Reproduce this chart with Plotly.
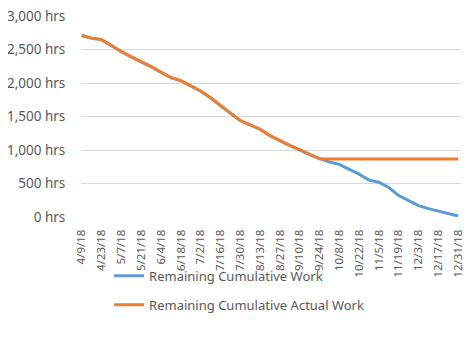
import plotly.graph_objects as go
import pandas as pd

# Weekly dates (Mondays) from 4/9/18 to 12/31/18
dates = pd.date_range("2018-04-09", "2018-12-31", freq="7D")

remaining_work = [2710, 2670, 2645, 2555, 2470, 2390, 2320, 2245, 2160, 2080,
                  2035, 1960, 1880, 1780, 1660, 1550, 1440, 1375, 1310, 1215,
                  1140, 1065, 1000, 930, 870, 820, 785, 715, 640, 550,
                  520, 440, 320, 245, 170, 125, 88, 48, 15]

remaining_actual = [2710, 2670, 2645, 2555, 2470, 2390, 2320, 2245, 2160, 2080,
                    2035, 1960, 1880, 1780, 1660, 1550, 1440, 1375, 1310, 1215,
                    1140, 1065, 1005, 935, 868, 865, 865, 865, 865, 865,
                    865, 865, 865, 865, 865, 865, 865, 865, 865]

tick_dates = pd.date_range("2018-04-09", "2018-12-31", freq="14D")
tick_labels = [f"{d.month}/{d.day}/{d.strftime('%y')}" for d in tick_dates]

y_ticks = [0, 500, 1000, 1500, 2000, 2500, 3000]
y_labels = ["0 hrs", "500 hrs", "1,000 hrs", "1,500 hrs", "2,000 hrs", "2,500 hrs", "3,000 hrs"]

FONT = "Noto Sans"
GREY = "#595959"

fig = go.Figure()
fig.add_trace(go.Scatter(x=dates, y=remaining_work, mode="lines",
                         name="Remaining Cumulative Work", legendgroup="a",
                         line=dict(color="#5B9BD5", width=3)))
fig.add_trace(go.Scatter(x=dates, y=remaining_actual, mode="lines",
                         name="Remaining Cumulative Actual Work", legendgroup="b",
                         line=dict(color="#ED7D31", width=3)))

# the page body adds an 8px offset, so the figure is sized to fit the window
fig.update_layout(
    width=464, height=350,
    margin=dict(l=73, r=11, t=8, b=141),
    paper_bgcolor="white", plot_bgcolor="white",
    font=dict(family=FONT, color=GREY, size=12),
    showlegend=True,
    legend=dict(orientation="v", x=0.074, xanchor="left", y=-0.218, yanchor="top",
                font=dict(size=13, color=GREY), tracegroupgap=9,
                bgcolor="rgba(0,0,0,0)"),
    xaxis=dict(type="date", range=["2018-04-08 12:00", "2019-01-02"],
               tickvals=tick_dates, ticktext=tick_labels, tickangle=-90,
               showgrid=False, zeroline=False, showline=False, automargin=False,
               ticks="outside", ticklen=7, tickcolor="rgba(0,0,0,0)",
               ticklabeloverflow="allow",
               tickfont=dict(size=11.5, color=GREY)),
    yaxis=dict(range=[0, 3000], tickvals=y_ticks, ticktext=y_labels,
               showgrid=True, gridcolor="#D9D9D9", gridwidth=1,
               zeroline=False, showline=False, automargin=False,
               ticks="outside", ticklen=12, tickcolor="rgba(0,0,0,0)",
               ticklabeloverflow="allow",
               tickfont=dict(size=13.5, color=GREY)),
)

fig.write_html("out.html")
